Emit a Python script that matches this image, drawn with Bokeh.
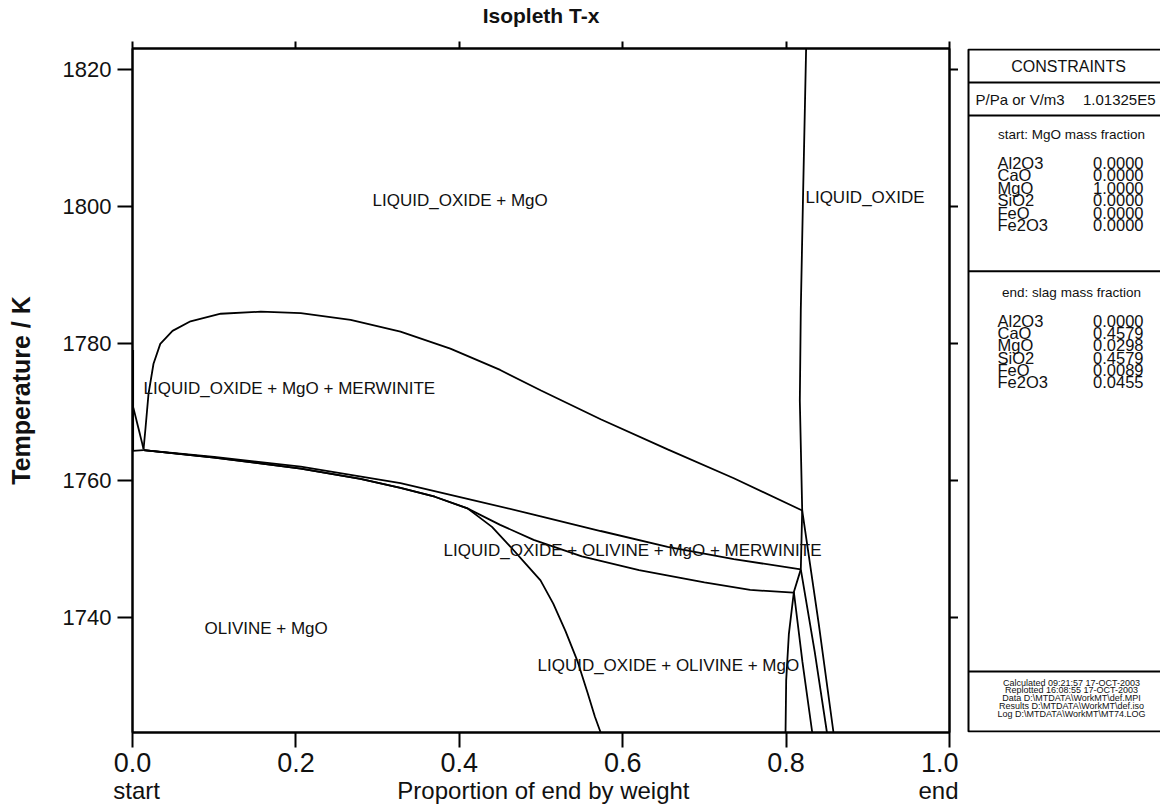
from bokeh.plotting import figure
from bokeh.models import Range1d, LinearAxis, FixedTicker, Label, NumeralTickFormatter
from bokeh.layouts import row
from bokeh.embed import file_html
from bokeh.resources import INLINE

# ---------------- data ----------------
x_ticks = [0.0, 0.2, 0.4, 0.6, 0.8, 1.0]
y_ticks = [1740, 1760, 1780, 1800, 1820]
x_text_pos = [0.005, 0.503, 0.988]
x_text = ["start", "Proportion of end by weight", "end"]
title_pos = [0.5]
title_text = ["Isopleth T-x"]

# upper boundary (LIQUID_OXIDE + MgO / + MERWINITE)
dome_x = [0.0135, 0.016, 0.0196, 0.0257, 0.034, 0.049, 0.071, 0.108, 0.157, 0.206, 0.267,
          0.328, 0.389, 0.45, 0.5, 0.573, 0.655, 0.736, 0.8197]
dome_T = [1764.5, 1767.7, 1772.6, 1777.0, 1779.9, 1781.8, 1783.2, 1784.3, 1784.6, 1784.4, 1783.4,
          1781.7, 1779.2, 1776.1, 1773.1, 1768.9, 1764.5, 1760.3, 1755.6]

# liquidus (near-vertical)
liq_x = [0.8245, 0.8205, 0.8180, 0.8168, 0.8197, 0.818]
liq_T = [1823.0, 1800.0, 1785.0, 1771.6, 1755.6, 1747.0]

# lines from the left junction
l1_x = [0.0135, 0.1, 0.206, 0.328, 0.41, 0.491, 0.573, 0.655, 0.736, 0.818]
l1_T = [1764.4, 1763.4, 1762.0, 1759.6, 1757.3, 1755.0, 1752.6, 1750.3, 1748.5, 1747.0]
l2_x = [0.0135, 0.1, 0.206, 0.279, 0.328, 0.37, 0.41, 0.45, 0.491, 0.55, 0.62, 0.7, 0.756, 0.809]
l2_T = [1764.4, 1763.3, 1761.7, 1760.2, 1758.9, 1757.6, 1755.9, 1753.5, 1751.3, 1748.9, 1746.9,
        1745.1, 1744.0, 1743.6]
l3_x = [0.0135, 0.1, 0.206, 0.279, 0.328, 0.37, 0.41, 0.44, 0.4627, 0.48, 0.4994, 0.515, 0.53,
        0.545, 0.557, 0.566, 0.573]
l3_T = [1764.4, 1763.3, 1761.7, 1760.2, 1758.9, 1757.6, 1755.9, 1753.2, 1750.3, 1748.0, 1745.4,
        1742.0, 1738.0, 1733.5, 1729.0, 1725.5, 1723.2]

# right-hand boundaries
r1_x = [0.8197, 0.840, 0.858]
r1_T = [1755.6, 1739.0, 1723.2]
r2_x = [0.818, 0.835, 0.850]
r2_T = [1747.0, 1735.0, 1723.2]
r3_x = [0.818, 0.8095, 0.820, 0.832]
r3_T = [1747.0, 1743.7, 1733.5, 1723.2]
r4_x = [0.8095, 0.8034, 0.8001, 0.7993]
r4_T = [1743.7, 1737.6, 1730.8, 1723.2]

# small features at x = 0
sp1_x = [0.0008, 0.0008]
sp1_T = [1779.0, 1764.4]
sp2_x = [0.001, 0.0135]
sp2_T = [1770.6, 1764.6]
sp3_x = [0.0, 0.0135]
sp3_T = [1764.3, 1764.4]

region_labels = ["LIQUID_OXIDE + MgO", "LIQUID_OXIDE", "LIQUID_OXIDE + MgO + MERWINITE",
                 "LIQUID_OXIDE + OLIVINE + MgO + MERWINITE", "OLIVINE + MgO",
                 "LIQUID_OXIDE + OLIVINE + MgO"]
region_x = [0.2938, 0.8237, 0.0135, 0.3807, 0.0881, 0.4957]
region_T = [1800.8, 1801.3, 1773.35, 1749.74, 1738.37, 1732.97]

oxides = ["Al2O3", "CaO", "MgO", "SiO2", "FeO", "Fe2O3"]
start_frac = ["0.0000", "0.0000", "1.0000", "0.0000", "0.0000", "0.0000"]
end_frac = ["0.0000", "0.4579", "0.0298", "0.4579", "0.0089", "0.0455"]
footer = ["Calculated 09:21:57 17-OCT-2003",
          "Replotted 16:08:55 17-OCT-2003",
          "Data D:\\MTDATA\\WorkMT\\def.MPI",
          "Results D:\\MTDATA\\WorkMT\\def.iso",
          "Log D:\\MTDATA\\WorkMT\\MT74.LOG"]

FONT = "Liberation Sans"
INK = "#111111"

# ---------------- main figure ----------------
p = figure(width=958, height=806, output_backend="svg", toolbar_location=None,
           x_range=Range1d(0.0, 1.0), y_range=Range1d(1723.2, 1823.0),
           min_border_left=132, min_border_right=9, min_border_top=47, min_border_bottom=74,
           x_axis_location=None, y_axis_location=None)
p.xgrid.visible = False
p.ygrid.visible = False
p.outline_line_color = "black"
p.outline_line_width = 2
p.background_fill_color = "white"
p.border_fill_color = "white"

def mk_axis(ticks, tick_out, show_labels, fmt=None, size="22px", standoff=6):
    ax = LinearAxis(ticker=FixedTicker(ticks=ticks))
    ax.axis_line_color = "black"
    ax.axis_line_width = 2
    ax.major_tick_line_color = "black"
    ax.major_tick_line_width = 2
    ax.major_tick_out = tick_out
    ax.major_tick_in = 0
    ax.minor_tick_line_color = None
    if fmt is not None:
        ax.formatter = fmt
    if show_labels:
        ax.major_label_text_font = FONT
        ax.major_label_text_font_size = size
        ax.major_label_text_color = INK
        ax.major_label_standoff = standoff
    else:
        ax.major_label_text_font_size = "0px"
        ax.major_label_text_alpha = 0
        ax.major_label_standoff = 0
    return ax

def text_axis(positions, texts, size, standoff, bold=False):
    ax = LinearAxis(ticker=FixedTicker(ticks=positions),
                    major_label_overrides={k: v for k, v in zip(positions, texts)})
    ax.axis_line_color = None
    ax.major_tick_line_color = None
    ax.minor_tick_line_color = None
    ax.major_tick_out = 0
    ax.major_tick_in = 0
    ax.major_label_standoff = standoff
    ax.major_label_text_font = FONT
    ax.major_label_text_font_size = size
    ax.major_label_text_font_style = "bold" if bold else "normal"
    ax.major_label_text_color = INK
    return ax

xb = mk_axis(x_ticks, 15, True, NumeralTickFormatter(format="0.0"), "27px", 5)
p.add_layout(xb, "below")
p.add_layout(text_axis(x_text_pos, x_text, "24px", 2), "below")

p.add_layout(mk_axis(x_ticks, 7, False), "above")
p.add_layout(text_axis(title_pos, title_text, "21px", 15, bold=True), "above")

yl = mk_axis(y_ticks, 15, True, None, "22px")
yl.axis_label = "Temperature / K"
yl.axis_label_text_font = FONT
yl.axis_label_text_font_size = "25px"
yl.axis_label_text_font_style = "bold"
yl.axis_label_text_color = INK
yl.axis_label_standoff = 25
p.add_layout(yl, "left")
p.add_layout(mk_axis(y_ticks, 9, False), "right")

for xs, ts in [(dome_x, dome_T), (liq_x, liq_T), (l1_x, l1_T), (l2_x, l2_T), (l3_x, l3_T),
               (r1_x, r1_T), (r2_x, r2_T), (r3_x, r3_T), (r4_x, r4_T),
               (sp1_x, sp1_T), (sp2_x, sp2_T), (sp3_x, sp3_T)]:
    p.line(xs, ts, line_color="black", line_width=1.8)

for txt, xx, tt in zip(region_labels, region_x, region_T):
    p.add_layout(Label(x=xx, y=tt, text=txt, text_font=FONT, text_font_size="17px",
                       text_color=INK, text_baseline="middle", text_align="left"))

# ---------------- constraints panel (page coordinates) ----------------
q = figure(width=202, height=806, output_backend="svg", toolbar_location=None,
           x_range=Range1d(958, 1160), y_range=Range1d(732, 47),
           min_border_left=0, min_border_right=0, min_border_top=0, min_border_bottom=0,
           x_axis_location=None, y_axis_location=None)
q.xgrid.visible = False
q.ygrid.visible = False
q.outline_line_color = None
q.background_fill_color = "white"
q.border_fill_color = "white"

box_l, box_r, box_t, box_b = 968, 1200, 48, 731
q.multi_line(xs=[[box_r, box_l, box_l, box_r]], ys=[[box_t, box_t, box_b, box_b]],
             line_color="black", line_width=2)
q.multi_line(xs=[[box_l, box_r]] * 4, ys=[[81, 81], [114, 114], [270, 270], [671, 671]],
             line_color="black", line_width=2)

def qtext(x, y, t, size, align="left", bold=False):
    q.add_layout(Label(x=x, y=y, text=t, text_font=FONT, text_font_size=size,
                       text_font_style="bold" if bold else "normal", text_color=INK,
                       text_align=align, text_baseline="middle"))

qtext(1068, 65, "CONSTRAINTS", "16px", "center")
qtext(975, 98, "P/Pa or V/m3", "15px")
qtext(1155, 98, "1.01325E5", "15px", "right")
qtext(1071, 133, "start: MgO mass fraction", "13.5px", "center")
qtext(1071, 291, "end: slag mass fraction", "13.5px", "center")
for i, (ox, a, b) in enumerate(zip(oxides, start_frac, end_frac)):
    qtext(997, 161.5 + 12.5 * i, ox, "16.5px")
    qtext(1143, 161.5 + 12.5 * i, a, "16.5px", "right")
    qtext(997, 320 + 12.2 * i, ox, "16.5px")
    qtext(1143, 320 + 12.2 * i, b, "16.5px", "right")
for i, t in enumerate(footer):
    qtext(1071, 682 + 7.75 * i, t, "9px", "center")

layout = row(p, q, spacing=0)
open("out.html", "w").write(file_html(layout, INLINE))
